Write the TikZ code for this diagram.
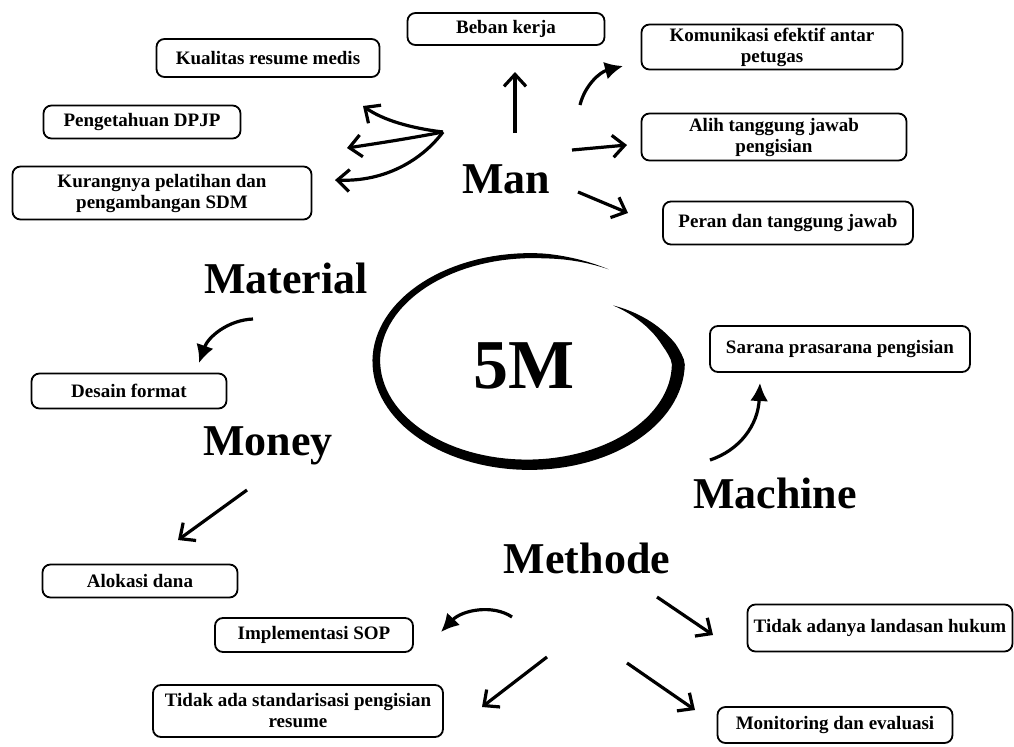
\documentclass[tikz,border=0pt]{standalone}
\usepackage{fontspec}
\setmainfont{Liberation Serif}
\usetikzlibrary{arrows.meta}
\tikzstyle{block} = [draw, rectangle, rounded corners=4pt, line width=0.9pt, align=center, inner sep=1pt, font=\bfseries\fontsize{9.5}{10.5}\selectfont]
\tikzstyle{group} = [anchor=base, inner sep=0pt, font=\bfseries\fontsize{22}{26}\selectfont]
\tikzstyle{line} = [draw, line width=1.6pt, -{Straight Barb[length=6pt,width=11pt]}]
\tikzstyle{bent} = [draw, line width=1.6pt, -{Latex[length=9pt,width=9pt]}]

\begin{document}
\begin{tikzpicture}[x=0.5pt, y=-0.5pt,
        declare function={sc(\u)=1+0.07*\u/345-0.2*max(0,45-\u)/45;
                          th(\u)=min(1,\u/35,(345-\u)/25)*(6.5-4*max(0,\u-45)/270);}]
        \useasboundingbox (0,0) rectangle (1014,746);
        \node[block, minimum width=98.5pt, minimum height=16pt] (beban) at (506,29) {Beban kerja};
        \node[block, minimum width=111.5pt, minimum height=19pt] (kualitas) at (268,58) {Kualitas resume medis};
        \node[block, minimum width=98.5pt, minimum height=16.5pt] (dpjp) at (142,122) {Pengetahuan DPJP};
        \node[block, minimum width=149.5pt, minimum height=26.5pt] (pelatihan) at (162,193) {Kurangnya pelatihan dan\\pengambangan SDM};
        \node[block, minimum width=130.5pt, minimum height=22.5pt] (komunikasi) at (772,47) {Komunikasi efektif antar\\petugas};
        \node[block, minimum width=132.5pt, minimum height=23.5pt] (alih) at (774,137) {Alih tanggung jawab\\pengisian};
        \node[block, minimum width=125pt, minimum height=21.5pt] (peran) at (788,223) {Peran dan tanggung jawab};
        \node[block, minimum width=97.5pt, minimum height=17.5pt] (desain) at (129,391) {Desain format};
        \node[block, minimum width=130pt, minimum height=23pt] (sarana) at (840,349) {Sarana prasarana pengisian};
        \node[block, minimum width=97.5pt, minimum height=16.5pt] (alokasi) at (140,581) {Alokasi dana};
        \node[block, minimum width=99pt, minimum height=17pt] (sop) at (314,635) {Implementasi SOP};
        \node[block, minimum width=145pt, minimum height=26pt] (standar) at (298,711) {Tidak ada standarisasi pengisian\\resume};
        \node[block, minimum width=132.5pt, minimum height=23.5pt] (landasan) at (880,628) {Tidak adanya landasan hukum};
        \node[block, minimum width=117.5pt, minimum height=18pt] (monev) at (835,725) {Monitoring dan evaluasi};
        \node[group] (man) at (506,193) {Man};
        \node[group] (material) at (286,293) {Material};
        \node[group] (money) at (268,455) {Money};
        \node[group] (machine) at (775,508) {Machine};
        \node[group] (methode) at (587,573) {Methode};
        \node[anchor=base, inner sep=0pt, font=\bfseries\fontsize{35}{40}\selectfont] (fivem) at (524,388) {5M};
        \fill plot[domain=0:345, samples=120, variable=\u] ({530+(sc(\u)*147+th(\u))*cos(45-\u)}, {362-(sc(\u)*100+th(\u))*sin(45-\u)})
            -- plot[domain=0:345, samples=120, variable=\u] ({530+(sc(345-\u)*147-th(345-\u))*cos(\u-300)}, {362-(sc(345-\u)*100-th(345-\u))*sin(\u-300)}) -- cycle;
        \coordinate (man1) at (443,132);
        \coordinate (man2) at (515,133);
        \coordinate (man3) at (580,105);
        \coordinate (man4) at (572,150);
        \coordinate (man5) at (578,192);
        \coordinate (kualitasIn) at (363,106);
        \coordinate (dpjpIn) at (347,148);
        \coordinate (pelatihanIn) at (335,180);
        \coordinate (bebanIn) at (515,72);
        \coordinate (komunikasiIn) at (623,66);
        \coordinate (alihIn) at (627,145);
        \coordinate (peranIn) at (628,213);
        \coordinate (material1) at (253,319);
        \coordinate (desainIn) at (199,363);
        \coordinate (money1) at (247,490);
        \coordinate (alokasiIn) at (178,540);
        \coordinate (machine1) at (710,460);
        \coordinate (saranaIn) at (760,383);
        \coordinate (methode1) at (512,617);
        \coordinate (methode2) at (547,657);
        \coordinate (methode3) at (657,597);
        \coordinate (methode4) at (627,663);
        \coordinate (sopIn) at (441,632);
        \coordinate (standarIn) at (482,707);
        \coordinate (landasanIn) at (713,635);
        \coordinate (monevIn) at (695,710);
        \path[line] (man1) .. controls (410,128) and (383,120) .. (kualitasIn);
        \path[line] (man1) .. controls (412,138) and (380,143) .. (dpjpIn);
        \path[line] (man1) .. controls (422,160) and (385,182) .. (pelatihanIn);
        \path[line] (man2) -- (bebanIn);
        \path[bent] (man3) .. controls (585,85) and (600,72) .. (komunikasiIn);
        \path[line] (man4) -- (alihIn);
        \path[line] (man5) -- (peranIn);
        \path[bent] (material1) .. controls (228,320) and (208,337) .. (desainIn);
        \path[line] (money1) -- (alokasiIn);
        \path[bent] (machine1) .. controls (740,450) and (758,425) .. (saranaIn);
        \path[bent] (methode1) .. controls (493,604) and (462,610) .. (sopIn);
        \path[line] (methode2) -- (standarIn);
        \path[line] (methode3) -- (landasanIn);
        \path[line] (methode4) -- (monevIn);
\end{tikzpicture}
\end{document}
